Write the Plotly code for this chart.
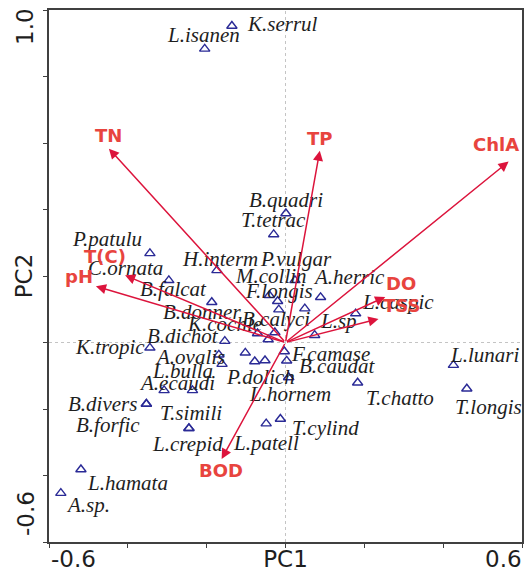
import plotly.graph_objects as go

# ---------------- data ----------------
species = ["K.serrul", "L.isanen", "B.quadri", "T.tetrac", "P.patulu", "H.interm",
           "C.ornata", "P.vulgar", "A.herric", "B.falcat", "F.longis", "M.collin",
           "B.calyci", "", "L.caspic", "L.sp", "K.cochle", "B.donner", "",
           "B.dichot", "K.tropic", "A.ovalis", "L.bulla", "", "", "",
           "F.camase", "B.caudat", "P.dolich", "L.hornem", "T.chatto", "L.lunari",
           "T.longis", "L.patell", "T.cylind", "A.ecaudi", "", "B.divers",
           "B.forfic", "T.simili", "L.crepid", "L.hamata", "A.sp."]
species_pc1 = [-0.136, -0.205, 0.001, -0.030, -0.344, -0.174,
               -0.296, 0.024, 0.089, -0.187, -0.041, -0.020,
               -0.017, 0.049, 0.178, 0.074, -0.071, -0.027, -0.044,
               -0.154, -0.344, -0.169, -0.161, -0.102, -0.078, -0.052,
               -0.003, 0.003, 0.008, 0.008, 0.183, 0.426,
               0.460, -0.049, -0.013, -0.308, -0.236, -0.353,
               -0.353, -0.245, -0.245, -0.519, -0.570]
species_pc2 = [0.952, 0.883, 0.388, 0.325, 0.268, 0.217,
               0.187, 0.187, 0.136, 0.121, 0.142, 0.124,
               0.099, 0.102, 0.087, 0.022, 0.027, 0.030, 0.009,
               0.004, -0.016, -0.037, -0.065, -0.031, -0.057, -0.054,
               -0.027, -0.055, -0.105, -0.105, -0.121, -0.068,
               -0.139, -0.244, -0.230, -0.144, -0.144, -0.185,
               -0.185, -0.258, -0.258, -0.382, -0.453]

variables = ["TN", "TP", "ChlA", "T(C)", "pH", "DO", "TSS", "BOD"]
var_pc1 = [-0.448, 0.087, 0.566, -0.407, -0.481, 0.253, 0.236, -0.162]
var_pc2 = [0.583, 0.577, 0.544, 0.202, 0.169, 0.137, 0.071, -0.350]

x_title, y_title = "PC1", "PC2"
x_range = [-0.6, 0.6]
y_range = [-0.6, 1.0]
x_end_labels = ["-0.6", "0.6"]
y_end_labels = ["-0.6", "1.0"]

# ---------------- style (label offsets in px: dx right, dy down) ----------------
species_label_offset = {
    "K.serrul": (51, -2), "L.isanen": (-1, -14), "B.quadri": (0, -13),
    "T.tetrac": (0, -14), "P.patulu": (-43, -14), "H.interm": (3, -11),
    "C.ornata": (-43, -12), "P.vulgar": (1, -21), "A.herric": (28, -20),
    "B.falcat": (-38, -13), "F.longis": (10, -4), "M.collin": (-7, -25),
    "B.calyci": (-3, 9.5), "L.caspic": (42, -11.5), "L.sp": (24, -14),
    "K.cochle": (-33.5, -9.5), "B.donner": (-73, -20.5), "B.dichot": (-42, -5),
    "K.tropic": (-40, -1), "A.ovalis": (-29, 2), "L.bulla": (-40, 7),
    "F.camase": (46.5, 2.5), "B.caudat": (50, 5), "P.dolich": (-28, 0),
    "L.hornem": (1, 16.5), "T.chatto": (42, 15), "L.lunari": (31, -10),
    "T.longis": (22, 18), "L.patell": (0, 19), "T.cylind": (45.5, 8.7),
    "A.ecaudi": (13, -7.5), "B.divers": (-44, 0), "B.forfic": (-38, 21),
    "T.simili": (2, -15), "L.crepid": (-1, 16), "L.hamata": (47, 13),
    "A.sp.": (27, 12),
}
var_label_offset = {
    "TN": (0, -13), "TP": (0, -12.5), "ChlA": (-13, -17), "T(C)": (-20, -19),
    "pH": (-17, -10), "DO": (16, -13), "TSS": (23, -13), "BOD": (-1, 12),
}

ARROW_COLOR = "#dc143c"
VAR_LABEL_COLOR = "#e8443e"
POINT_COLOR = "#2a2a96"
AXIS_COLOR = "#404040"
SERIF = "Liberation Serif, Times New Roman, serif"
SANS = "DejaVu Sans, sans-serif"

fig = go.Figure()

fig.add_trace(go.Scatter(
    x=species_pc1, y=species_pc2, mode="markers",
    marker=dict(symbol="triangle-up-open", size=9, color=POINT_COLOR,
                line=dict(width=1.4, color=POINT_COLOR)),
    hovertext=species, hoverinfo="text", showlegend=False,
))

annotations = []
# species labels
for name, x, y in zip(species, species_pc1, species_pc2):
    if not name:
        continue
    dx, dy = species_label_offset.get(name, (0, -14))
    annotations.append(dict(
        x=x, y=y, xref="x", yref="y", text=f"<i>{name}</i>", showarrow=False,
        xanchor="center", yanchor="middle", xshift=dx, yshift=-dy,
        font=dict(family=SERIF, size=21, color="#1e1e1e"),
    ))

# environmental arrows and labels
for name, x, y in zip(variables, var_pc1, var_pc2):
    annotations.append(dict(
        x=x, y=y, ax=0, ay=0, xref="x", yref="y", axref="x", ayref="y",
        text="", showarrow=True, arrowhead=2, arrowsize=1.35, arrowwidth=1.5,
        arrowcolor=ARROW_COLOR,
    ))
    dx, dy = var_label_offset[name]
    annotations.append(dict(
        x=x, y=y, xref="x", yref="y", text=f"<b>{name}</b>", showarrow=False,
        xanchor="center", yanchor="middle", xshift=dx, yshift=-dy,
        font=dict(family=SANS, size=18, color=VAR_LABEL_COLOR),
    ))

# end tick labels (placed inward of the end ticks, as in the original)
tick_font = dict(family=SANS, size=23, color="#1e1e1e")
annotations.append(dict(x=x_range[0], y=0, xref="x", yref="paper", text=x_end_labels[0],
                        showarrow=False, xanchor="left", yanchor="middle", yshift=-17,
                        font=tick_font))
annotations.append(dict(x=x_range[1], y=0, xref="x", yref="paper", text=x_end_labels[1],
                        showarrow=False, xanchor="right", yanchor="middle", yshift=-17,
                        xshift=2, font=tick_font))
annotations.append(dict(x=0, y=y_range[0], xref="paper", yref="y", text=y_end_labels[0],
                        showarrow=False, xanchor="center", yanchor="middle", xshift=-23,
                        yshift=28, textangle=-90, font=tick_font))
annotations.append(dict(x=0, y=y_range[1], xref="paper", yref="y", text=y_end_labels[1],
                        showarrow=False, xanchor="center", yanchor="middle", xshift=-24,
                        yshift=-17, textangle=-90, font=tick_font))

shapes = [
    dict(type="line", xref="x", yref="y", x0=0, x1=0, y0=y_range[0], y1=y_range[1],
         line=dict(color="#c4c4c4", width=1, dash="dot"), layer="below"),
    dict(type="line", xref="x", yref="y", x0=x_range[0], x1=x_range[1], y0=0, y1=0,
         line=dict(color="#c4c4c4", width=1, dash="dot"), layer="below"),
]

axis_common = dict(
    showgrid=False, zeroline=False, showline=True, mirror=True,
    linecolor=AXIS_COLOR, linewidth=1.5, ticks="outside", ticklen=4,
    tickcolor=AXIS_COLOR, tickwidth=1.2, showticklabels=False,
    dtick=0.2, tick0=0,
)

fig.update_layout(
    width=532, height=574,
    margin=dict(l=49, r=9, t=8, b=32),
    paper_bgcolor="white", plot_bgcolor="white",
    xaxis=dict(range=x_range, title=dict(text=x_title, font=dict(family=SANS, size=23, color="#1e1e1e"), standoff=4), **axis_common),
    yaxis=dict(range=y_range, title=dict(text=y_title, font=dict(family=SANS, size=23, color="#1e1e1e"), standoff=4), **axis_common),
    annotations=annotations,
    shapes=shapes,
    showlegend=False,
)

fig.write_html("out.html")
